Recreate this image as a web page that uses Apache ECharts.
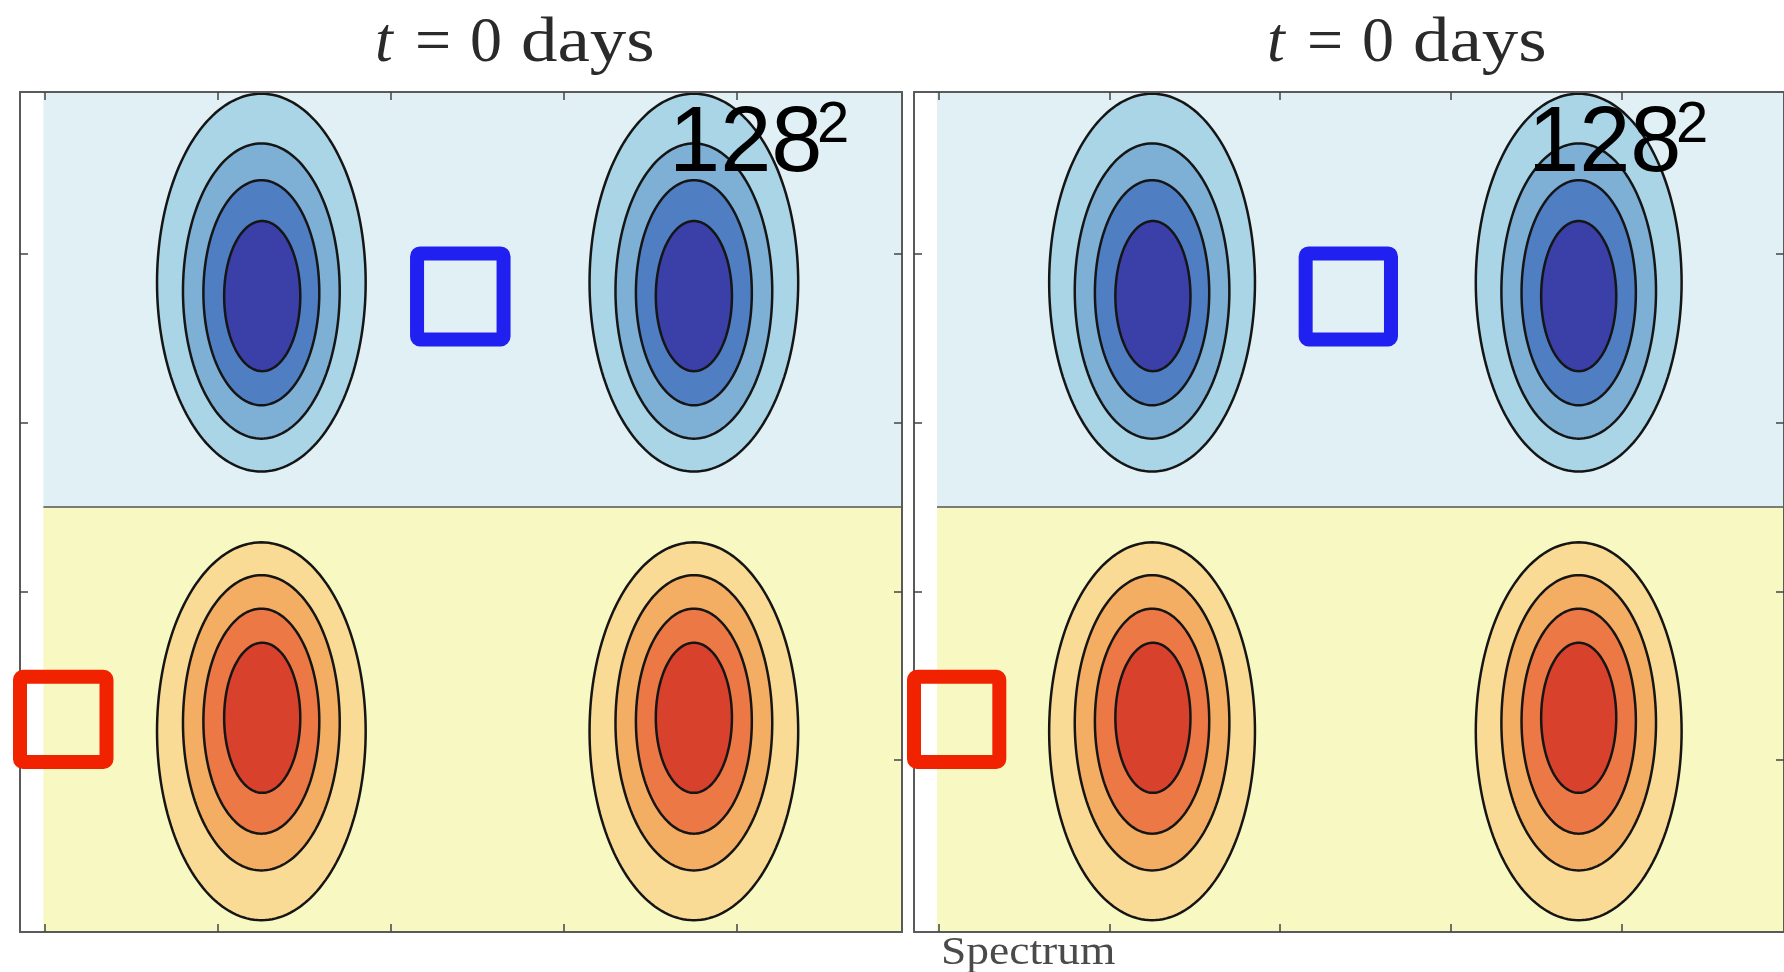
<!DOCTYPE html>
<html><head><meta charset="utf-8">
<script src="https://cdn.jsdelivr.net/npm/echarts@6/dist/echarts.min.js"></script>
<style>html,body{margin:0;padding:0;background:#fff}#c{width:1784px;height:972px}</style>
</head><body><div id="c"></div><script>
// ---- data ----
const titleParts = ['t', '=', '0', 'days'];
const resolutionBase = '128';
const resolutionPower = '2';
const footerLabel = 'Spectrum';
const xTicks = [0, 1, 2, 3, 4];
const yTicks = [1, 2, 3, 4];
const xRange = [-0.145, 4.953];
const yRange = [-0.02, 4.96];
// background bands: [x0, x1, y0, y1, kind]  kind 0 = negative (blue), 1 = positive (yellow)
const bands = [[-0.01, 4.953, 2.5, 4.96, 0], [-0.01, 4.953, -0.02, 2.5, 1]];
const dividerLine = [[-0.01, 4.953, 2.5]];
// contour ellipses: [cx, cy, rx, ry, level]
const negativeContours = [
  [1.25, 3.83, 0.603, 1.12, 0], [1.25, 3.78, 0.453, 0.875, 1], [1.25, 3.77, 0.335, 0.667, 2], [1.255, 3.75, 0.22, 0.445, 3],
  [3.75, 3.83, 0.603, 1.12, 0], [3.75, 3.78, 0.453, 0.875, 1], [3.75, 3.77, 0.335, 0.667, 2], [3.75, 3.75, 0.22, 0.445, 3]
];
const positiveContours = [
  [1.25, 1.17, 0.603, 1.12, 0], [1.25, 1.22, 0.453, 0.875, 1], [1.25, 1.23, 0.335, 0.667, 2], [1.255, 1.25, 0.22, 0.445, 3],
  [3.75, 1.17, 0.603, 1.12, 0], [3.75, 1.22, 0.453, 0.875, 1], [3.75, 1.23, 0.335, 0.667, 2], [3.75, 1.25, 0.22, 0.445, 3]
];
// tracer squares: [x0, y0, x1, y1]
const negativeTracer = [[2.15, 3.493, 2.65, 4.003]];
const positiveTracer = [[-0.145, 0.988, 0.355, 1.493]];

// ---- styles ----
const bandColors = ['#e0f0f5', '#f8f9c2'];
const negColors = ['#aad5e6', '#7eb0d6', '#4f7ec2', '#3a40a7'];
const posColors = ['#f9db96', '#f4ae64', '#ec7846', '#d8412b'];
const frameColor = '#5a5a5a';

const chart = echarts.init(document.getElementById('c'));
const grids = [
  { left: 20, top: 92, width: 882, height: 840 },
  { left: 914, top: 92, width: 882, height: 840 }
];
const xAxes = [], yAxes = [], series = [];
function axisCommon(ticks) {
  return {
    type: 'value',
    axisLine: { show: true, onZero: false, lineStyle: { color: frameColor, width: 2 } },
    axisTick: { show: true, inside: true, length: 8, customValues: ticks, lineStyle: { color: '#444', width: 1.5 } },
    axisLabel: { show: false },
    splitLine: { show: false },
    z: 10
  };
}
grids.forEach((g, gi) => {
  ['bottom', 'top'].forEach(pos => xAxes.push(Object.assign(axisCommon(xTicks), { gridIndex: gi, position: pos, min: xRange[0], max: xRange[1] })));
  ['left', 'right'].forEach(pos => yAxes.push(Object.assign(axisCommon(yTicks), { gridIndex: gi, position: pos, min: yRange[0], max: yRange[1] })));
  const xi = gi * 2, yi = gi * 2;
  series.push({
    type: 'custom', xAxisIndex: xi, yAxisIndex: yi, z: 1, silent: true, clip: true,
    data: bands,
    renderItem(p, api) {
      const a = api.coord([api.value(0), api.value(3)]), b = api.coord([api.value(1), api.value(2)]);
      return { type: 'rect', shape: { x: a[0], y: a[1], width: b[0] - a[0], height: b[1] - a[1] }, style: { fill: bandColors[api.value(4)] } };
    }
  });
  series.push({
    type: 'custom', xAxisIndex: xi, yAxisIndex: yi, z: 2, silent: true, clip: true,
    data: dividerLine,
    renderItem(p, api) {
      const a = api.coord([api.value(0), api.value(2)]), b = api.coord([api.value(1), api.value(2)]);
      return { type: 'line', shape: { x1: a[0], y1: a[1], x2: b[0], y2: b[1] }, style: { stroke: '#555', lineWidth: 1.5 } };
    }
  });
  [[negativeContours, negColors], [positiveContours, posColors]].forEach(([set, cols]) => {
    series.push({
      type: 'custom', xAxisIndex: xi, yAxisIndex: yi, z: 3, silent: true, clip: true,
      data: set,
      renderItem(p, api) {
        const cx = api.value(0), cy = api.value(1), rx = api.value(2), ry = api.value(3);
        const pts = [];
        for (let k = 0; k < 180; k++) {
          const t = 2 * Math.PI * k / 180;
          pts.push(api.coord([cx + rx * Math.cos(t), cy + ry * Math.sin(t)]));
        }
        return { type: 'polygon', shape: { points: pts }, style: { fill: cols[api.value(4)], stroke: '#151515', lineWidth: 2.5 } };
      }
    });
  });
  [[negativeTracer, '#2020f0'], [positiveTracer, '#f02200']].forEach(([set, col]) => {
    series.push({
      type: 'custom', xAxisIndex: xi, yAxisIndex: yi, z: 20, silent: true, clip: false,
      data: set,
      renderItem(p, api) {
        const a = api.coord([api.value(0), api.value(3)]), b = api.coord([api.value(2), api.value(1)]);
        return { type: 'rect', z2: 100, shape: { x: a[0], y: a[1], width: b[0] - a[0], height: b[1] - a[1], r: 3 }, style: { fill: 'none', stroke: col, lineWidth: 14, lineJoin: 'round' } };
      }
    });
  });
});

const serif = 'Liberation Serif, DejaVu Serif, serif';
const sans = 'Liberation Sans, Arial, sans-serif';
function txt(x, y, s, font, fill, sx) {
  return { type: 'text', x: x, y: y, z: 50, scaleX: sx || 1, originX: 0, originY: 0,
    style: { text: s, font: font, fill: fill, align: 'left', verticalAlign: 'middle' } };
}
function titleTexts(x0) {
  const c = '#2a2a2a';
  return [
    txt(x0, 44, titleParts[0], 'italic 64px ' + serif, c),
    txt(x0 + 40, 44, titleParts[1], '64px ' + serif, c),
    txt(x0 + 95, 44, titleParts[2], '64px ' + serif, c),
    txt(x0 + 146, 44, titleParts[3], '64px ' + serif, c, 1.14)
  ];
}
function resText(x) {
  return [
    txt(x, 146, resolutionBase, '92px ' + sans, '#000'),
    txt(x + 148, 126, resolutionPower, '58px ' + sans, '#000')
  ];
}
const graphic = [].concat(titleTexts(375), titleTexts(1267), resText(669), resText(1528),
  [txt(941, 953, footerLabel, '41px ' + serif, '#4a4a4a', 1.11)]);

chart.setOption({
  animation: false,
  backgroundColor: '#ffffff',
  grid: grids,
  xAxis: xAxes,
  yAxis: yAxes,
  series: series,
  graphic: graphic
});
</script></body></html>
